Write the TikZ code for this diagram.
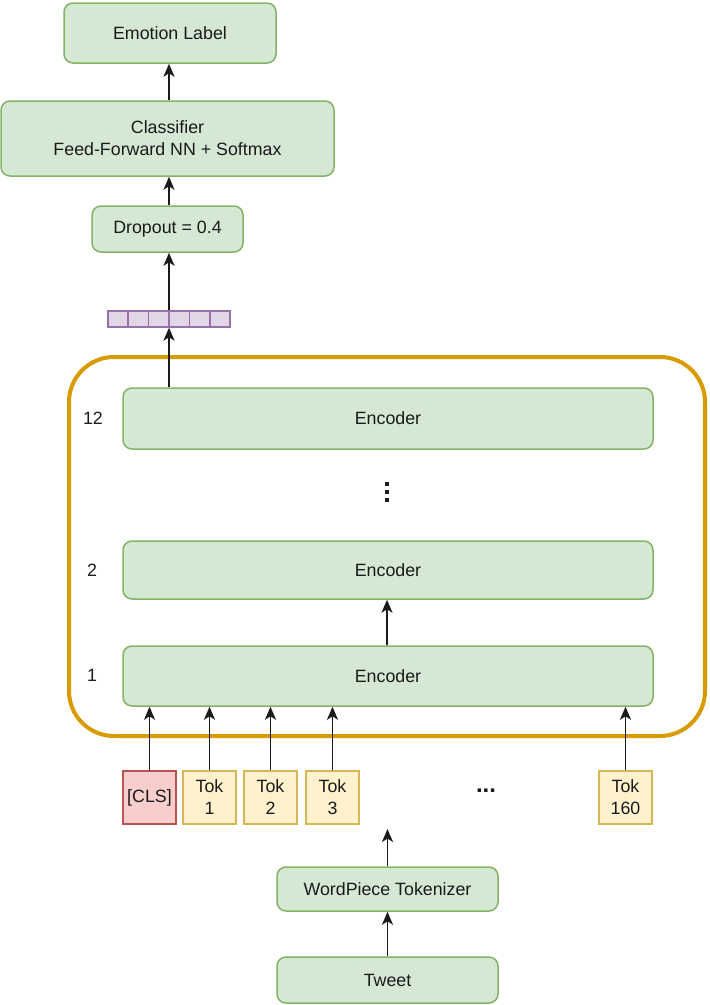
\documentclass[tikz,border=0pt]{standalone}
\usepackage{fontspec}
\setmainfont{Liberation Sans}
\usetikzlibrary{arrows.meta,calc}
\definecolor{gfill}{HTML}{D5E8D4}
\definecolor{gdraw}{HTML}{82B366}
\definecolor{yfill}{HTML}{FFF2CC}
\definecolor{ydraw}{HTML}{D6B656}
\definecolor{rfill}{HTML}{F8CECC}
\definecolor{rdraw}{HTML}{B85450}
\definecolor{pfill}{HTML}{E1D5E7}
\definecolor{pdraw}{HTML}{9673A6}
\definecolor{orng}{HTML}{D79B00}
\definecolor{txt}{HTML}{1A1A1A}
\tikzset{
  gbox/.style={draw=gdraw, fill=gfill, line width=1.5pt, rounded corners=9pt,
    inner sep=0pt, align=center, text=txt, font=\fontsize{17.8}{22}\selectfont},
  tokbox/.style={draw=ydraw, fill=yfill, line width=1.5pt, inner sep=0pt,
    minimum width=53pt, minimum height=53pt, align=center, text=txt,
    font=\fontsize{17.8}{22}\selectfont},
  clsbox/.style={tokbox, draw=rdraw, fill=rfill},
  lbl/.style={text=txt, font=\fontsize{17.8}{22}\selectfont},
  arr/.style={line width=1.8pt, -{Stealth[length=13pt,width=11pt,inset=3.5pt]}, draw=txt},
}
\begin{document}
\begin{tikzpicture}[x=1pt,y=-1pt]
\useasboundingbox (0,0) rectangle (710,1005);
% top stack
\node[gbox, minimum width=212pt, minimum height=60pt] (emo) at (170,33) {Emotion Label};
\node[gbox, minimum width=333pt, minimum height=75pt] (clf) at (167.5,138.5) {Classifier\\Feed-Forward NN + Softmax};
\node[gbox, minimum width=151pt, minimum height=46pt] (drop) at (167.5,229) {Dropout = 0.4};
% vector
\node[draw=pdraw, fill=pfill, line width=1.4pt, minimum width=122pt, minimum height=16pt, inner sep=0pt] (vec) at (169,319) {};
\foreach \i in {1,...,5}{
  \draw[pdraw, line width=1.4pt] ($(vec.north west)!\i/6!(vec.north east)$) -- ($(vec.south west)!\i/6!(vec.south east)$);
}
% container
\draw[orng, line width=4pt, rounded corners=45pt] (69,357) rectangle (705,736);
% encoders
\node[gbox, minimum width=530pt, minimum height=61pt] (enc12) at (388,418.5) {Encoder};
\node[gbox, minimum width=530pt, minimum height=58pt] (enc2) at (388,570) {Encoder};
\node[gbox, minimum width=530pt, minimum height=60pt] (enc1) at (388,676) {Encoder};
\node[lbl] (l12) at (93,418) {12};
\node[lbl] (l2) at (92,570) {2};
\node[lbl] (l1) at (92,675) {1};
\node (vdots) at (387,492) {};
\foreach \dy in {-8,0,8}{
  \fill[txt] ($(vdots)+(-2,\dy-2)$) rectangle ($(vdots)+(2,\dy+2)$);
}
% tokens
\node[clsbox] (tcls) at (149.5,797.5) {[CLS]};
\node[tokbox] (t1) at (209.5,797.5) {Tok\\1};
\node[tokbox] (t2) at (270.5,797.5) {Tok\\2};
\node[tokbox] (t3) at (332.5,797.5) {Tok\\3};
\node[tokbox] (t160) at (625.5,797.5) {Tok\\160};
\node[lbl, font=\fontsize{24}{26}\selectfont\bfseries] (hdots) at (486,791) {...};
% bottom
\node[gbox, minimum width=221pt, minimum height=44pt] (wp) at (387.5,889) {WordPiece Tokenizer};
\node[gbox, minimum width=221pt, minimum height=46pt] (tweet) at (387.5,980) {Tweet};
\coordinate (tokin) at (387.5,829);
% arrows
\draw[arr] (tweet.north) -- (wp.south);
\draw[arr] (wp.north) -- (tokin);
\foreach \t in {tcls,t1,t2,t3,t160}{
  \draw[arr] (\t.north) -- (\t.north |- enc1.south);
}
\draw[arr] (enc1.north -| 387,0) -- (enc2.south -| 387,0);
\draw[arr] (enc12.north -| vec.south) -- (vec.south);
\draw[arr] (vec.north) -- (vec.north |- drop.south);
\draw[arr] (drop.north -| 169,0) -- (clf.south -| 169,0);
\draw[arr] (clf.north -| 169,0) -- (emo.south -| 169,0);
\end{tikzpicture}
\end{document}
